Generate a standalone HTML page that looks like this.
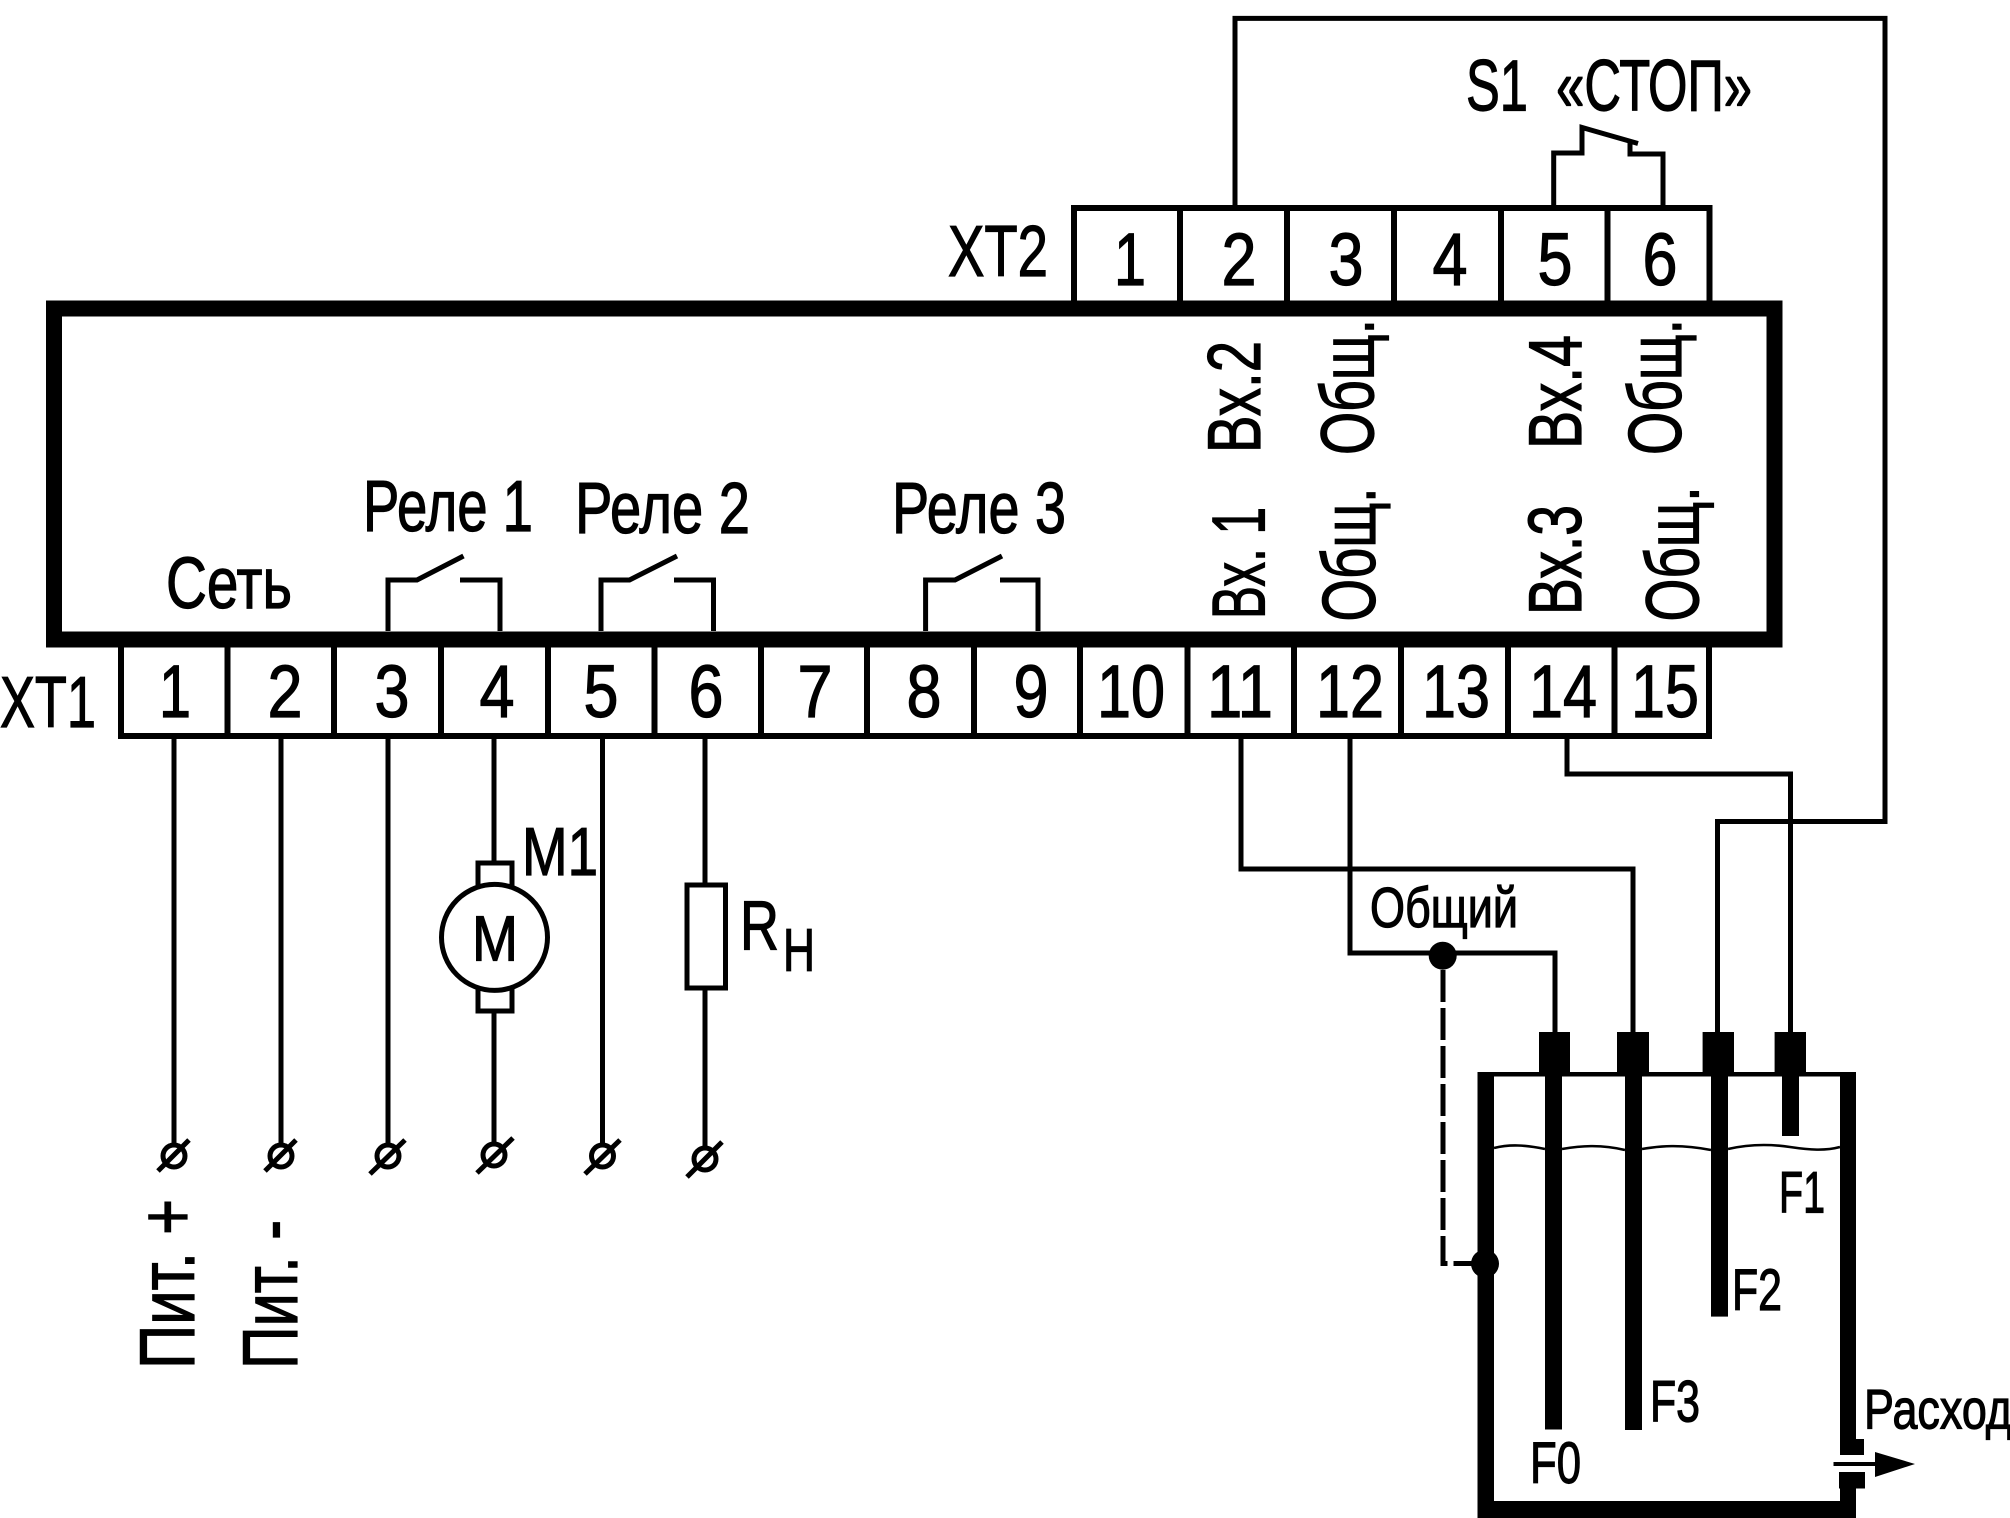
<!DOCTYPE html>
<html><head><meta charset="utf-8">
<style>
html,body{margin:0;padding:0;background:#fff}
svg{display:block}
text{font-family:"Liberation Sans",sans-serif;fill:#000;stroke:#000;stroke-width:1.2px}
.d{font-size:74px;text-anchor:middle}
.l{font-size:72px}
.v{font-size:75px}
</style></head>
<body>
<svg width="2010" height="1518" viewBox="0 0 2010 1518" xmlns="http://www.w3.org/2000/svg">
<rect width="2010" height="1518" fill="#fff"/>

<!-- terminals XT1 -->
<g fill="none" stroke="#000" stroke-width="6">
<path d="M121 640V736H1709V640M227.5 640V736M334 640V736M441 640V736M548 640V736M654.5 640V736M761 640V736M867 640V736M974 640V736M1080 640V736M1187.5 640V736M1294 640V736M1401 640V736M1508 640V736M1614.5 640V736"/>
<!-- terminals XT2 -->
<path d="M1074 305V208H1709.5V305M1180 208V305M1287 208V305M1394 208V305M1501 208V305M1607.5 208V305"/>
</g>
<!-- main box -->
<rect x="54" y="308.5" width="1720.5" height="331" fill="none" stroke="#000" stroke-width="16"/>

<!-- wires -->
<g fill="none" stroke="#000" stroke-width="5">
<path d="M174 739V1145M281 739V1145M388 739V1145M494 739V863M494 1011V1144M602.5 739V1145M705 739V885M705 988V1148"/>
<path d="M388 631V580H417L463.5 556M460 580H500V631"/>
<path d="M601 631V580H629.5L677 556M674 580H713.5V631"/>
<path d="M925.6 631V580H955L1002 556M1000 580H1038V631"/>
<path d="M1553.7 205V153H1582V127.5L1638 143.5M1630 143V154H1663V205"/>
<path d="M1235 205V18.4H1885V821.5H1717.5V1032"/>
<path d="M1567 739V774H1790.5V1032"/>
<path d="M1241 739V869H1633V1032"/>
<path d="M1350 739V953H1555V1032"/>
<path d="M1443 970V1263.5H1483" stroke-dasharray="32 6"/>
<!-- motor -->
<rect x="478" y="863" width="34" height="30" fill="#fff"/>
<rect x="478" y="981" width="34" height="30" fill="#fff"/>
<circle cx="494.5" cy="937.4" r="53" fill="#fff"/>
<!-- resistor -->
<rect x="687" y="885" width="38.5" height="103"/>
<!-- terminals -->
<circle cx="174" cy="1156" r="11"/><path d="M158 1171L189 1140"/>
<circle cx="281" cy="1156" r="11"/><path d="M265 1171L296 1140"/>
<circle cx="388" cy="1156" r="11"/><path d="M370 1174L405 1140"/>
<circle cx="494" cy="1155" r="11"/><path d="M477 1173L513 1138"/>
<circle cx="602.5" cy="1156" r="11"/><path d="M585 1174L620 1140"/>
<circle cx="705" cy="1159" r="11"/><path d="M687 1177L722 1142"/>
</g>

<!-- dots -->
<ellipse cx="1442.7" cy="955.7" rx="14" ry="14"/>
<ellipse cx="1485" cy="1263.7" rx="14" ry="14"/>

<!-- tank -->
<g fill="#000">
<rect x="1477.5" y="1072" width="378.5" height="4.5"/>
<rect x="1477.5" y="1072" width="16.5" height="446"/>
<rect x="1477.5" y="1501" width="378.5" height="17"/>
<rect x="1840" y="1072" width="16" height="367"/>
<rect x="1840" y="1439" width="24" height="16"/>
<rect x="1839" y="1472" width="26" height="16.5"/>
<rect x="1840" y="1472" width="16" height="46"/>
<rect x="1539" y="1032" width="31" height="42"/>
<rect x="1617" y="1032" width="32" height="42"/>
<rect x="1702.6" y="1032" width="31.4" height="42"/>
<rect x="1774.6" y="1032" width="31.4" height="42"/>
<rect x="1545" y="1072" width="17" height="357.5"/>
<rect x="1625" y="1072" width="17" height="358"/>
<rect x="1711" y="1072" width="17" height="244.6"/>
<rect x="1782" y="1072" width="17" height="64"/>
<rect x="1833.5" y="1462" width="42" height="4"/>
<path d="M1875 1452L1915 1464L1875 1477Z"/>
</g>
<path d="M1494 1148C1510 1144 1525 1145 1545 1149M1562 1149C1580 1146 1600 1144 1625 1150M1642 1149C1660 1146 1680 1144 1711 1150M1728 1149C1750 1144 1770 1144 1790 1147S1825 1151 1840 1147" fill="none" stroke="#000" stroke-width="2.6"/>

<!-- XT1 digits -->
<text class="d" x="175" y="717" textLength="32" lengthAdjust="spacingAndGlyphs">1</text>
<text class="d" x="285" y="717" textLength="35" lengthAdjust="spacingAndGlyphs">2</text>
<text class="d" x="392" y="717" textLength="35" lengthAdjust="spacingAndGlyphs">3</text>
<text class="d" x="497" y="717" textLength="35" lengthAdjust="spacingAndGlyphs">4</text>
<text class="d" x="601" y="717" textLength="35" lengthAdjust="spacingAndGlyphs">5</text>
<text class="d" x="706" y="717" textLength="35" lengthAdjust="spacingAndGlyphs">6</text>
<text class="d" x="815" y="717" textLength="35" lengthAdjust="spacingAndGlyphs">7</text>
<text class="d" x="924" y="717" textLength="35" lengthAdjust="spacingAndGlyphs">8</text>
<text class="d" x="1031" y="717" textLength="35" lengthAdjust="spacingAndGlyphs">9</text>
<text class="d" x="1131" y="717" textLength="68" lengthAdjust="spacingAndGlyphs">10</text>
<text class="d" x="1240" y="717" textLength="66" lengthAdjust="spacingAndGlyphs">11</text>
<text class="d" x="1350" y="717" textLength="68" lengthAdjust="spacingAndGlyphs">12</text>
<text class="d" x="1456" y="717" textLength="68" lengthAdjust="spacingAndGlyphs">13</text>
<text class="d" x="1563" y="717" textLength="68" lengthAdjust="spacingAndGlyphs">14</text>
<text class="d" x="1665" y="717" textLength="68" lengthAdjust="spacingAndGlyphs">15</text>
<!-- XT2 digits -->
<text class="d" x="1130" y="285" textLength="32" lengthAdjust="spacingAndGlyphs">1</text>
<text class="d" x="1239" y="285" textLength="35" lengthAdjust="spacingAndGlyphs">2</text>
<text class="d" x="1346" y="285" textLength="35" lengthAdjust="spacingAndGlyphs">3</text>
<text class="d" x="1450" y="285" textLength="35" lengthAdjust="spacingAndGlyphs">4</text>
<text class="d" x="1555" y="285" textLength="35" lengthAdjust="spacingAndGlyphs">5</text>
<text class="d" x="1660" y="285" textLength="35" lengthAdjust="spacingAndGlyphs">6</text>

<!-- labels -->
<text class="l" x="0" y="727" textLength="96" lengthAdjust="spacingAndGlyphs">XT1</text>
<text class="l" x="948" y="276" textLength="100" lengthAdjust="spacingAndGlyphs">XT2</text>
<text class="l" x="363" y="531" textLength="170" lengthAdjust="spacingAndGlyphs">Реле 1</text>
<text class="l" x="575" y="533" textLength="175" lengthAdjust="spacingAndGlyphs">Реле 2</text>
<text class="l" x="892" y="533" textLength="174" lengthAdjust="spacingAndGlyphs">Реле 3</text>
<text class="l" x="166" y="608" textLength="126" lengthAdjust="spacingAndGlyphs">Сеть</text>
<text class="l" x="1466" y="110.5" textLength="286" lengthAdjust="spacingAndGlyphs" xml:space="preserve">S1  «СТОП»</text>

<!-- vertical labels -->
<text class="v" transform="translate(1260 453) rotate(-90)" textLength="112" lengthAdjust="spacingAndGlyphs">Вх.2</text>
<text class="v" transform="translate(1373.6 455) rotate(-90)" textLength="136" lengthAdjust="spacingAndGlyphs">Общ.</text>
<text class="v" transform="translate(1581 449) rotate(-90)" textLength="114" lengthAdjust="spacingAndGlyphs">Вх.4</text>
<text class="v" transform="translate(1681 455) rotate(-90)" textLength="136" lengthAdjust="spacingAndGlyphs">Общ.</text>
<text class="v" transform="translate(1264.6 619) rotate(-90)" textLength="112" lengthAdjust="spacingAndGlyphs">Вх. 1</text>
<text class="v" transform="translate(1375 621.5) rotate(-90)" textLength="134" lengthAdjust="spacingAndGlyphs">Общ.</text>
<text class="v" transform="translate(1581 615) rotate(-90)" textLength="110" lengthAdjust="spacingAndGlyphs">Вх.3</text>
<text class="v" transform="translate(1698.6 621.5) rotate(-90)" textLength="135" lengthAdjust="spacingAndGlyphs">Общ.</text>
<text class="v" transform="translate(194 1369) rotate(-90)" textLength="170" lengthAdjust="spacingAndGlyphs" style="font-size:78px">Пит. +</text>
<text class="v" transform="translate(297 1369) rotate(-90)" textLength="149" lengthAdjust="spacingAndGlyphs" style="font-size:78px">Пит. -</text>

<!-- motor / resistor labels -->
<text x="522" y="875" style="font-size:68px" textLength="76" lengthAdjust="spacingAndGlyphs">M1</text>
<text x="472" y="960.6" style="font-size:64px" textLength="46" lengthAdjust="spacingAndGlyphs">M</text>
<text x="740" y="949.5" style="font-size:70px" textLength="39" lengthAdjust="spacingAndGlyphs">R</text>
<text x="783" y="970.8" style="font-size:60px" textLength="32" lengthAdjust="spacingAndGlyphs">H</text>

<!-- tank labels -->
<text x="1370" y="927" style="font-size:57px" textLength="148" lengthAdjust="spacingAndGlyphs">Общий</text>
<text x="1779" y="1212.5" style="font-size:58px" textLength="46" lengthAdjust="spacingAndGlyphs">F1</text>
<text x="1732" y="1310" style="font-size:58px" textLength="50" lengthAdjust="spacingAndGlyphs">F2</text>
<text x="1650" y="1421.5" style="font-size:58px" textLength="50" lengthAdjust="spacingAndGlyphs">F3</text>
<text x="1530" y="1483" style="font-size:58px" textLength="51" lengthAdjust="spacingAndGlyphs">F0</text>
<text x="1864" y="1428.6" style="font-size:56px" textLength="148" lengthAdjust="spacingAndGlyphs">Расход</text>
</svg>
</body></html>
